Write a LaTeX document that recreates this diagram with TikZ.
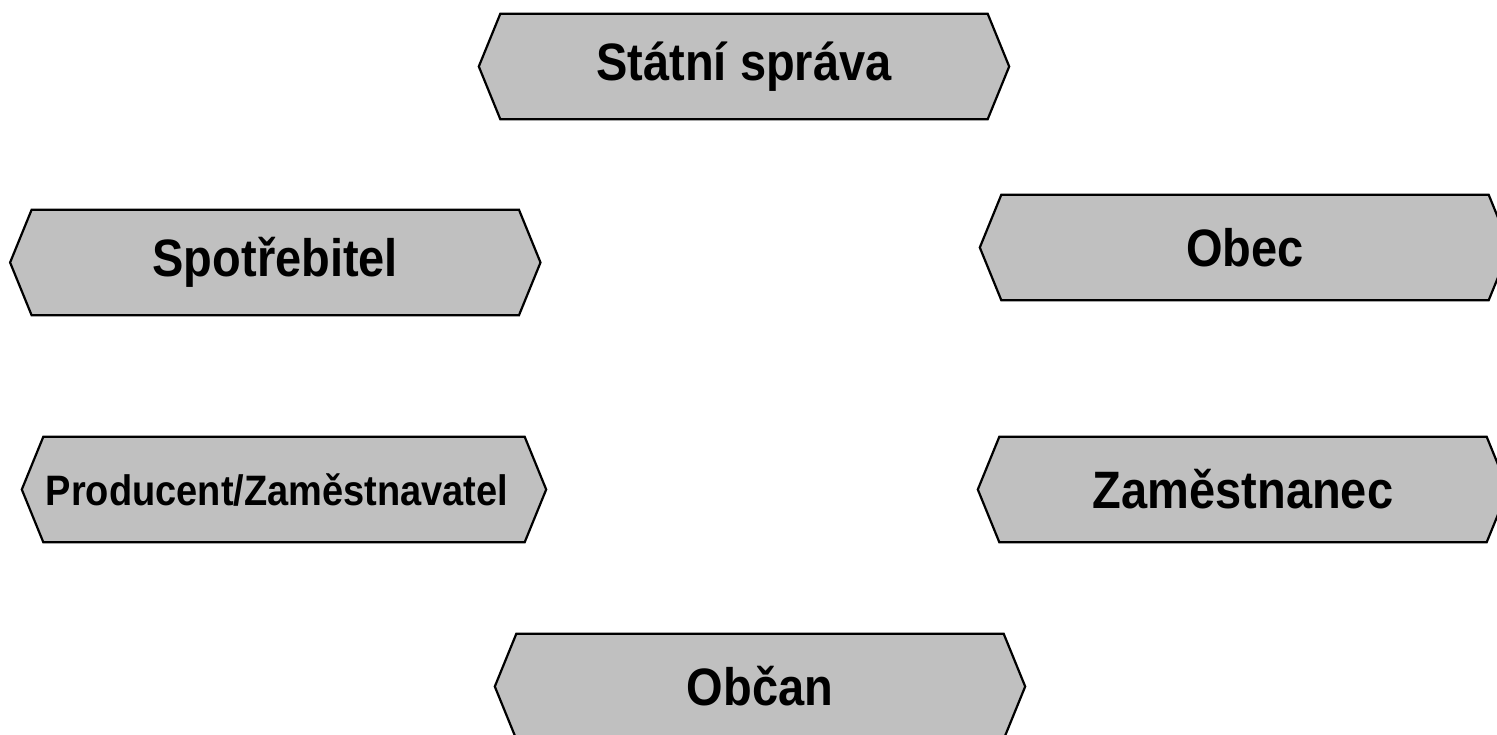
\documentclass[tikz,border=0pt]{standalone}
\usepackage{fontspec}
\setmainfont{Liberation Sans}
\usetikzlibrary{calc,backgrounds}
\definecolor{boxgray}{HTML}{C0C0C0}
\newcommand\tallt[1]{\scalebox{1}[1.12]{#1}}
\begin{document}
\begin{tikzpicture}[x=1pt,y=-1pt,
  hexbox/.style={minimum width=530pt, minimum height=105pt, inner sep=0pt, font=\bfseries\fontsize{47}{50}\selectfont},
  smalltext/.style={font=\bfseries\fontsize{38}{40}\selectfont},
  hexline/.style={draw=black, fill=boxgray, line width=2.2pt, line join=miter}]
\useasboundingbox (0,0) rectangle (1497,735);
\newcommand\hexof[1]{\path[hexline] ($(#1.north west)+(21.5,0)$) -- ($(#1.north east)+(-21.5,0)$) -- (#1.east) -- ($(#1.south east)+(-21.5,0)$) -- ($(#1.south west)+(21.5,0)$) -- (#1.west) -- cycle;}
\node[hexbox] (stat) at (744,66.5) {\tallt{Státní správa}};
\node[hexbox] (spot) at (275.3,262.5) {\tallt{Spotřebitel}};
\node[hexbox] (obec) at (1245,247.5) {\tallt{Obec}};
\node[hexbox,minimum width=524pt] (prod) at (284,489.5) {};
\node[smalltext] (prodtext) at (277,490) {\tallt{Producent/Zaměstnavatel}};
\node[hexbox] (zam) at (1243,489.5) {\tallt{Zaměstnanec}};
\node[hexbox] (obcan) at (760,686.5) {\tallt{Občan}};
\begin{scope}[on background layer]
\hexof{stat}
\hexof{spot}
\hexof{obec}
\hexof{prod}
\hexof{zam}
\hexof{obcan}
\end{scope}
\end{tikzpicture}
\end{document}
